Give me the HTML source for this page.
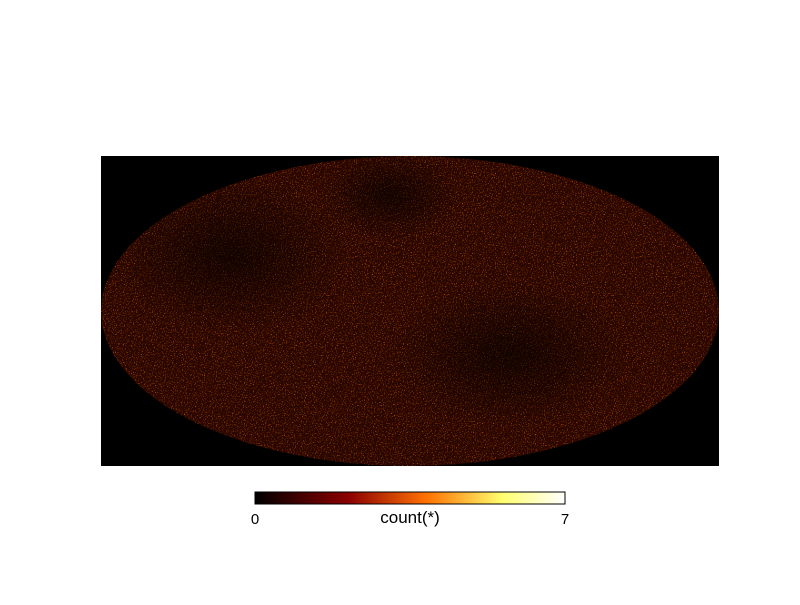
<!DOCTYPE html>
<html><head><meta charset="utf-8"><style>
body{margin:0;background:#fff;width:800px;height:600px;overflow:hidden;font-family:"Liberation Sans",sans-serif}
</style></head><body>
<svg width="800" height="600">
<defs>
<filter id="noise" x="0" y="0" width="100%" height="100%">
<feTurbulence type="fractalNoise" baseFrequency="0.9" numOctaves="1" seed="3" result="t"/>
<feColorMatrix in="t" type="matrix" values="0 0 0 0 0.85  0 0 0 0 0.15  0 0 0 0 0  4 0 0 0 -2.3" result="c"/>
<feComposite in="c" in2="SourceGraphic" operator="in"/>
</filter>
<radialGradient id="dark1"><stop offset="0" stop-color="#000" stop-opacity="0.6"/><stop offset="1" stop-color="#000" stop-opacity="0"/></radialGradient>
<linearGradient id="cbar" x1="0" x2="1"><stop offset="0" stop-color="#000"/><stop offset="0.3" stop-color="#8a0000"/><stop offset="0.55" stop-color="#ff7000"/><stop offset="0.8" stop-color="#ffff70"/><stop offset="1" stop-color="#fff"/></linearGradient>
<clipPath id="ell"><ellipse cx="410" cy="311" rx="309" ry="155"/></clipPath>
</defs>
<rect x="101" y="156" width="618" height="310" fill="#000"/>
<g clip-path="url(#ell)">
<ellipse cx="410" cy="311" rx="309" ry="155" fill="#2a0600"/>
<rect x="101" y="156" width="618" height="310" fill="#fff" filter="url(#noise)"/>
<ellipse cx="230" cy="255" rx="120" ry="80" fill="url(#dark1)"/>
<ellipse cx="510" cy="355" rx="120" ry="75" fill="url(#dark1)"/>
<ellipse cx="390" cy="195" rx="70" ry="45" fill="url(#dark1)"/>
</g>
<rect x="255" y="492" width="310" height="12" fill="url(#cbar)" stroke="#000" stroke-width="1"/>
<text x="255" y="524" font-size="15" text-anchor="middle">0</text>
<text x="565" y="524" font-size="15" text-anchor="middle">7</text>
<text x="410" y="523" font-size="17" text-anchor="middle">count(*)</text>
</svg>
</body></html>
